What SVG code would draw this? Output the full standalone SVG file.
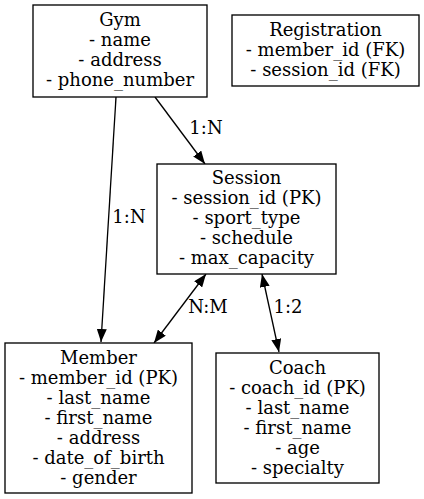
<svg xmlns="http://www.w3.org/2000/svg" width="424" height="499" viewBox="0 0 424 499">
<defs>
<style>
.box{fill:#fff;stroke:#000;stroke-width:1.33}
text{font-family:"DejaVu Serif",serif;font-size:18px;fill:#000;text-anchor:middle}
.edge{fill:none;stroke:#000;stroke-width:1.33}
</style>
<marker id="ah" viewBox="0 0 13 10" refX="13" refY="5" markerWidth="13" markerHeight="10" markerUnits="userSpaceOnUse" orient="auto-start-reverse">
<path d="M0,0 L13,5 L0,10 Z" fill="#000"/>
</marker>
</defs>
<rect width="424" height="499" fill="#fff"/>
<g id="edges">
<path class="edge" d="M116,97 L101,342" marker-end="url(#ah)"/>
<text x="129" y="223">1:N</text>
<path class="edge" d="M155,97 L205,164" marker-end="url(#ah)"/>
<text x="206" y="134">1:N</text>
<path class="edge" d="M206,274 L154,343" marker-start="url(#ah)" marker-end="url(#ah)"/>
<text x="208" y="313">N:M</text>
<path class="edge" d="M262,274 L279,352" marker-start="url(#ah)" marker-end="url(#ah)"/>
<text x="288" y="313">1:2</text>
</g>
<g id="gym">
<rect class="box" x="33" y="5" width="174" height="92"/>
<text x="120" y="26">Gym</text>
<text x="120" y="46">- name</text>
<text x="120" y="66">- address</text>
<text x="120" y="86">- phone_number</text>
</g>
<g id="registration">
<rect class="box" x="232" y="15" width="187" height="71"/>
<text x="325.5" y="36">Registration</text>
<text x="325.5" y="56">- member_id (FK)</text>
<text x="325.5" y="76">- session_id (FK)</text>
</g>
<g id="session">
<rect class="box" x="157" y="164" width="179" height="110"/>
<text x="246.5" y="184">Session</text>
<text x="246.5" y="204">- session_id (PK)</text>
<text x="246.5" y="224">- sport_type</text>
<text x="246.5" y="244">- schedule</text>
<text x="246.5" y="264">- max_capacity</text>
</g>
<g id="member">
<rect class="box" x="5" y="343" width="187" height="150"/>
<text x="98.5" y="364">Member</text>
<text x="98.5" y="384">- member_id (PK)</text>
<text x="98.5" y="404">- last_name</text>
<text x="98.5" y="424">- first_name</text>
<text x="98.5" y="444">- address</text>
<text x="98.5" y="464">- date_of_birth</text>
<text x="98.5" y="484">- gender</text>
</g>
<g id="coach">
<rect class="box" x="216" y="353" width="163" height="130"/>
<text x="297.5" y="374">Coach</text>
<text x="297.5" y="394">- coach_id (PK)</text>
<text x="297.5" y="414">- last_name</text>
<text x="297.5" y="434">- first_name</text>
<text x="297.5" y="454">- age</text>
<text x="297.5" y="474">- specialty</text>
</g>
</svg>
